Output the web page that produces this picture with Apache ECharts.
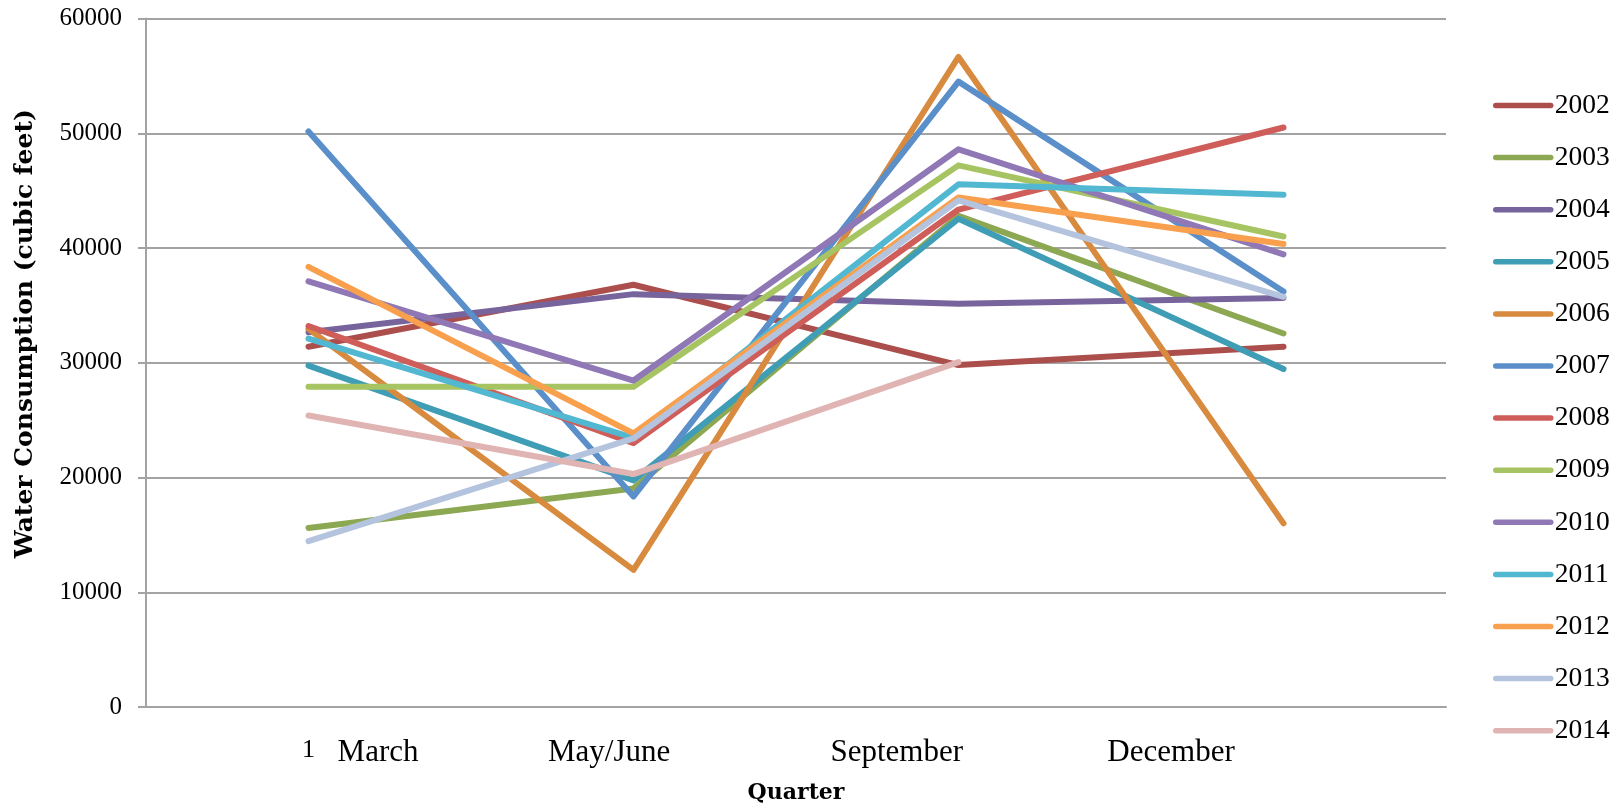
<!DOCTYPE html>
<html>
<head>
<meta charset="utf-8">
<title>Water Consumption by Quarter</title>
<script src="https://cdn.jsdelivr.net/npm/echarts@6/dist/echarts.min.js"></script>
<style>
  html, body { margin: 0; padding: 0; background: #ffffff; }
  #chart { width: 1623px; height: 809px; }
</style>
</head>
<body>
<div id="chart"></div>
<script>
// Category axis: only the first quarter carries a tick label
const quarterTicks = ['1', '', '', ''];

// Month captions placed along the bottom, in category-index units
const monthLabels = ['March', 'May/June', 'September', 'December'];
const monthLabelPos = [0.214, 0.925, 1.81, 2.654];

// Y axis ticks
const yMin = 0;
const yMax = 60000;
const yStep = 10000;

// Quarterly water consumption (cubic feet) per year
const years = ['2002', '2003', '2004', '2005', '2006', '2007', '2008',
               '2009', '2010', '2011', '2012', '2013', '2014'];
const v2002 = [31400, 36800, 29800, 31400];
const v2003 = [15600, 19050, 42800, 32550];
const v2004 = [32650, 35980, 35150, 35650];
const v2005 = [29750, 19750, 42550, 29450];
const v2006 = [32950, 11950, 56650, 16000];
const v2007 = [50150, 18350, 54500, 36200];
const v2008 = [33200, 23000, 43350, 50500];
const v2009 = [27900, 27900, 47200, 41000];
const v2010 = [37100, 28450, 48600, 39450];
const v2011 = [32100, 23450, 45550, 44650];
const v2012 = [38350, 23850, 44400, 40350];
const v2013 = [14450, 23400, 44150, 35750];
const v2014 = [25400, 20300, 30050, null];

const seriesValues = [v2002, v2003, v2004, v2005, v2006, v2007, v2008,
                      v2009, v2010, v2011, v2012, v2013, v2014];

const lineColors = ['#AC4F4C', '#8DA853', '#78649C', '#3F9DB5', '#D88B3F',
                    '#5A8FC9', '#CF5E5A', '#A7C463', '#8F78B5', '#52B7D0',
                    '#F8A04D', '#B4C4DE', '#E0B4B3'];

const gridColor = '#a3a3a3';
const serif = '"Liberation Serif", "DejaVu Serif", serif';
const wideSerif = '"DejaVu Serif", "Liberation Serif", serif';

const chart = echarts.init(document.getElementById('chart'), null, { renderer: 'canvas' });

const series = years.map((y, i) => ({
  name: y,
  type: 'line',
  xAxisIndex: 0,
  data: seriesValues[i],
  symbol: 'none',
  showSymbol: false,
  animation: false,
  color: lineColors[i],
  lineStyle: { width: 6, color: lineColors[i], cap: 'round', join: 'round' }
}));

chart.setOption({
  animation: false,
  grid: { left: 146, right: 177, top: 18.5, bottom: 92.3, containLabel: false },
  legend: {
    orient: 'vertical',
    left: 1488,
    top: 86.5,
    itemWidth: 55,
    itemHeight: 14,
    itemGap: 24.1,
    data: years,
    itemStyle: { opacity: 0 },
    lineStyle: { width: 5.5, cap: 'round' },
    textStyle: { fontFamily: serif, fontSize: 27.5, color: '#000', padding: [0, 0, 0, -1] }
  },
  xAxis: [
    {
      type: 'category',
      data: quarterTicks,
      boundaryGap: true,
      axisLine: { show: true, onZero: false, lineStyle: { color: gridColor, width: 2 } },
      axisTick: { show: false },
      axisLabel: { fontFamily: serif, fontSize: 26, color: '#000', margin: 30, interval: 0 },
      name: 'Quarter',
      nameLocation: 'middle',
      nameGap: 75,
      nameTextStyle: { fontFamily: wideSerif, fontSize: 22, fontWeight: 'bold', color: '#000' }
    },
    {
      type: 'value',
      position: 'bottom',
      min: -0.5,
      max: 3.5,
      axisLine: { show: false, onZero: false },
      axisTick: { show: false },
      splitLine: { show: false },
      axisLabel: {
        customValues: monthLabelPos,
        fontFamily: serif, fontSize: 31, color: '#000', margin: 30,
        formatter: (v) => {
          const k = monthLabelPos.findIndex(p => Math.abs(p - v) < 1e-6);
          return k >= 0 ? monthLabels[k] : '';
        }
      }
    }
  ],
  yAxis: {
    type: 'value',
    min: yMin,
    max: yMax,
    interval: yStep,
    axisLine: { show: true, onZero: false, lineStyle: { color: gridColor, width: 2 } },
    axisTick: { show: true, length: 8, lineStyle: { color: gridColor, width: 2 } },
    splitLine: { show: true, lineStyle: { color: gridColor, width: 2 } },
    axisLabel: { fontFamily: serif, fontSize: 25, color: '#000', margin: 24, formatter: (v) => String(v) },
    name: 'Water Consumption (cubic feet)',
    nameLocation: 'middle',
    nameRotate: 90,
    nameGap: 108,
    nameTextStyle: { fontFamily: wideSerif, fontSize: 25, fontWeight: 'bold', color: '#000', padding: [0, 0, 0, 58] }
  },
  series: series
});
</script>
</body>
</html>
